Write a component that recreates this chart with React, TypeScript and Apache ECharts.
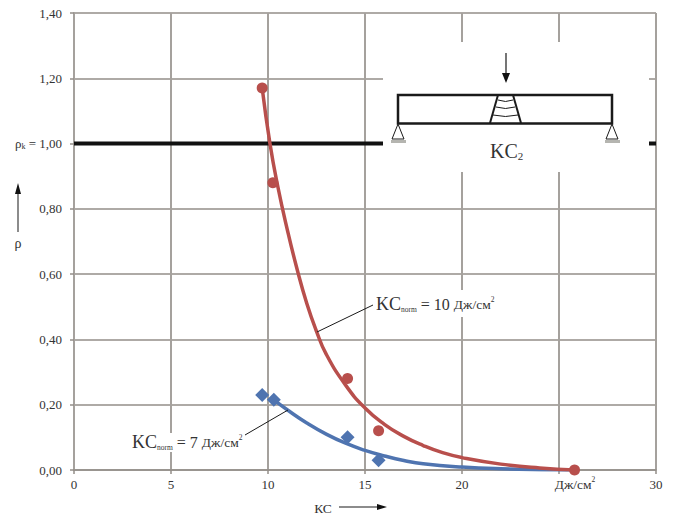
import React, { useEffect, useRef } from "react";
import * as echarts from "echarts";

const redPoints = [[9.7, 1.17], [10.25, 0.88], [14.1, 0.28], [15.7, 0.12], [25.8, 0]];
const bluePoints = [[9.7, 0.23], [10.3, 0.215], [14.1, 0.1], [15.7, 0.03]];
const redCurve = [[9.7, 1.17], [10.1, 1.0], [10.5, 0.87], [11, 0.735], [11.5, 0.615], [12, 0.51], [12.5, 0.425], [13, 0.355], [14, 0.26], [15, 0.19], [16, 0.14], [17, 0.103], [18, 0.075], [19, 0.053], [20, 0.038], [22, 0.018], [24, 0.006], [25.8, 0]];
const blueCurve = [[10.3, 0.215], [11.1, 0.18], [12, 0.144], [13, 0.11], [14, 0.082], [15, 0.06], [16, 0.043], [17, 0.029], [18, 0.019], [20, 0.009], [22, 0.004], [25.8, 0]];
const refLine = [[0, 1], [30, 1]];

const SERIF = "'Liberation Serif', serif";
const TXT = "#333333";

const label = (x: number, y: number, text: string, fs: number, rich: any = {}, align = "left") => ({
  type: "text", z: 10, x, y,
  style: { text, font: `${fs}px ${SERIF}`, fill: TXT, align, verticalAlign: "middle", rich },
});
const seg = (x1: number, y1: number, x2: number, y2: number, stroke = "#1a1a1a", lineWidth = 1) => ({
  type: "line", z: 10, shape: { x1, y1, x2, y2 }, style: { stroke, lineWidth },
});
const white = (x: number, y: number, width: number, height: number) => ({
  type: "rect", z: 9, shape: { x, y, width, height }, style: { fill: "#fff" },
});
const arc = (x1: number, x2: number, y: number, sag: number) => ({
  type: "bezierCurve", z: 10,
  shape: { x1, y1: y, x2, y2: y, cpx1: (x1 + x2) / 2, cpy1: y + sag },
  style: { stroke: "#1a1a1a", lineWidth: 1, fill: "none" },
});
const support = (x: number) => [
  { type: "polygon", z: 10, shape: { points: [[x, 124], [x - 6, 139], [x + 6, 139]] }, style: { fill: "#fff", stroke: "#1a1a1a", lineWidth: 1 } },
  { type: "rect", z: 10, shape: { x: x - 7, y: 140, width: 15, height: 3 }, style: { fill: "#b5b5b0" } },
];

const noteRich = {
  kc: { font: `18px ${SERIF}`, fill: TXT },
  eq: { font: `16px ${SERIF}`, fill: TXT },
  unit: { font: `13.5px ${SERIF}`, fill: TXT },
  sub: { font: `7.5px ${SERIF}`, fill: TXT, verticalAlign: "bottom", padding: [9, 0, 0, 0] },
  sup: { font: `7.5px ${SERIF}`, fill: TXT, verticalAlign: "top", padding: [0, 0, 9, 0] },
};

export default function App() {
  const ref = useRef<HTMLDivElement>(null);
  useEffect(() => {
    const chart = echarts.init(ref.current!, undefined, { renderer: "svg" });
    const gridV = { show: true, lineStyle: { color: "#a5a19d", width: 2 } };
    const gridH = { show: true, lineStyle: { color: "#938e89", width: 1.5 } };
    chart.setOption({
      animation: false,
      backgroundColor: "#fff",
      grid: { left: 74, right: 17, top: 13, bottom: 45 },
      xAxis: {
        type: "value", min: 0, max: 30, interval: 5,
        axisLine: { show: true, onZero: false, lineStyle: { color: "#938e89", width: 1.5 } },
        axisTick: { show: true, length: 4, lineStyle: { color: "#938e89", width: 1.5 } },
        splitLine: gridV,
        axisLabel: {
          color: TXT, fontFamily: SERIF, fontSize: 13, margin: 8,
          formatter: (v: number) => (v === 25 ? "" : String(v)),
        },
      },
      yAxis: {
        type: "value", min: 0, max: 1.4, interval: 0.2,
        axisLine: { show: true, lineStyle: { color: "#a5a19d", width: 2 } },
        axisTick: { show: true, length: 4, lineStyle: { color: "#938e89", width: 1.5 } },
        splitLine: gridH,
        axisLabel: {
          color: TXT, fontFamily: SERIF, fontSize: 13, margin: 12,
          formatter: (v: number) => {
            const s = v.toFixed(2).replace(".", ",");
            return Math.abs(v - 1) < 1e-6 ? `ρ{s|k} = ${s}` : s;
          },
          rich: { s: { fontFamily: SERIF, fontSize: 8, color: TXT, padding: [6, 0, 0, 0] } },
        },
      },
      series: [
        { type: "line", data: refLine, symbol: "none", silent: true, z: 3, lineStyle: { color: "#111", width: 4 } },
        { type: "line", data: blueCurve, symbol: "none", smooth: 0.5, z: 4, lineStyle: { color: "#4f74b0", width: 3.5 } },
        { type: "line", data: redCurve, symbol: "none", smooth: 0.5, z: 5, lineStyle: { color: "#b84f4c", width: 3.5 } },
        { type: "scatter", data: bluePoints, symbol: "diamond", symbolSize: 14, z: 6, itemStyle: { color: "#4f74b0", opacity: 1 } },
        { type: "scatter", data: redPoints, symbol: "circle", symbolSize: 11, z: 7, itemStyle: { color: "#b84f4c", opacity: 1 } },
      ],
      graphic: {
        elements: [
          white(383, 42, 266, 130),
          white(374, 290, 122, 27),
          white(132, 433, 110, 19),
          // leader lines
          seg(317, 332, 373, 305),
          seg(245, 435, 288, 410),
          // annotations
          label(376, 304, "{kc|KC}{sub|norm}{eq| = 10 }{unit|Дж/см}{sup|2}", 16, noteRich),
          label(132, 442, "{kc|KC}{sub|norm}{eq| = 7 }{unit|Дж/см}{sup|2}", 16, noteRich),
          label(575, 484, "{unit|Дж/см}{sup|2}", 13.5, noteRich, "center"),
          // axis arrows
          label(323, 508, "КС", 13.5, {}, "center"),
          seg(339, 507, 380, 507, "#666", 1.5),
          { type: "polygon", z: 10, shape: { points: [[387, 507], [377, 504], [377, 510]] }, style: { fill: "#111" } },
          label(18, 243, "ρ", 14, {}, "center"),
          seg(18, 232, 18, 190, "#666", 1.5),
          { type: "polygon", z: 10, shape: { points: [[18, 183], [15, 194], [21, 194]] }, style: { fill: "#111" } },
          // beam diagram
          seg(506, 53, 506, 76, "#1a1a1a", 1.2),
          { type: "polygon", z: 10, shape: { points: [[506, 83], [502, 73], [510, 73]] }, style: { fill: "#111" } },
          { type: "rect", z: 10, shape: { x: 398, y: 95, width: 214, height: 28.5 }, style: { fill: "none", stroke: "#1a1a1a", lineWidth: 2.5 } },
          seg(498, 95, 490, 123, "#1a1a1a", 2),
          seg(513, 95, 521, 123, "#1a1a1a", 2),
          arc(498, 513, 100, 3),
          arc(496, 515, 107, 3),
          arc(493, 518, 115, 3),
          ...support(398),
          ...support(612),
          label(490, 151, "KC{sub|2}", 20, { sub: { font: `11px ${SERIF}`, fill: TXT, verticalAlign: "bottom", padding: [10, 0, 0, 0] } }),
        ],
      },
    });
    return () => chart.dispose();
  }, []);
  return <div ref={ref} style={{ position: "absolute", left: 0, top: 0, width: 673, height: 515 }} />;
}
